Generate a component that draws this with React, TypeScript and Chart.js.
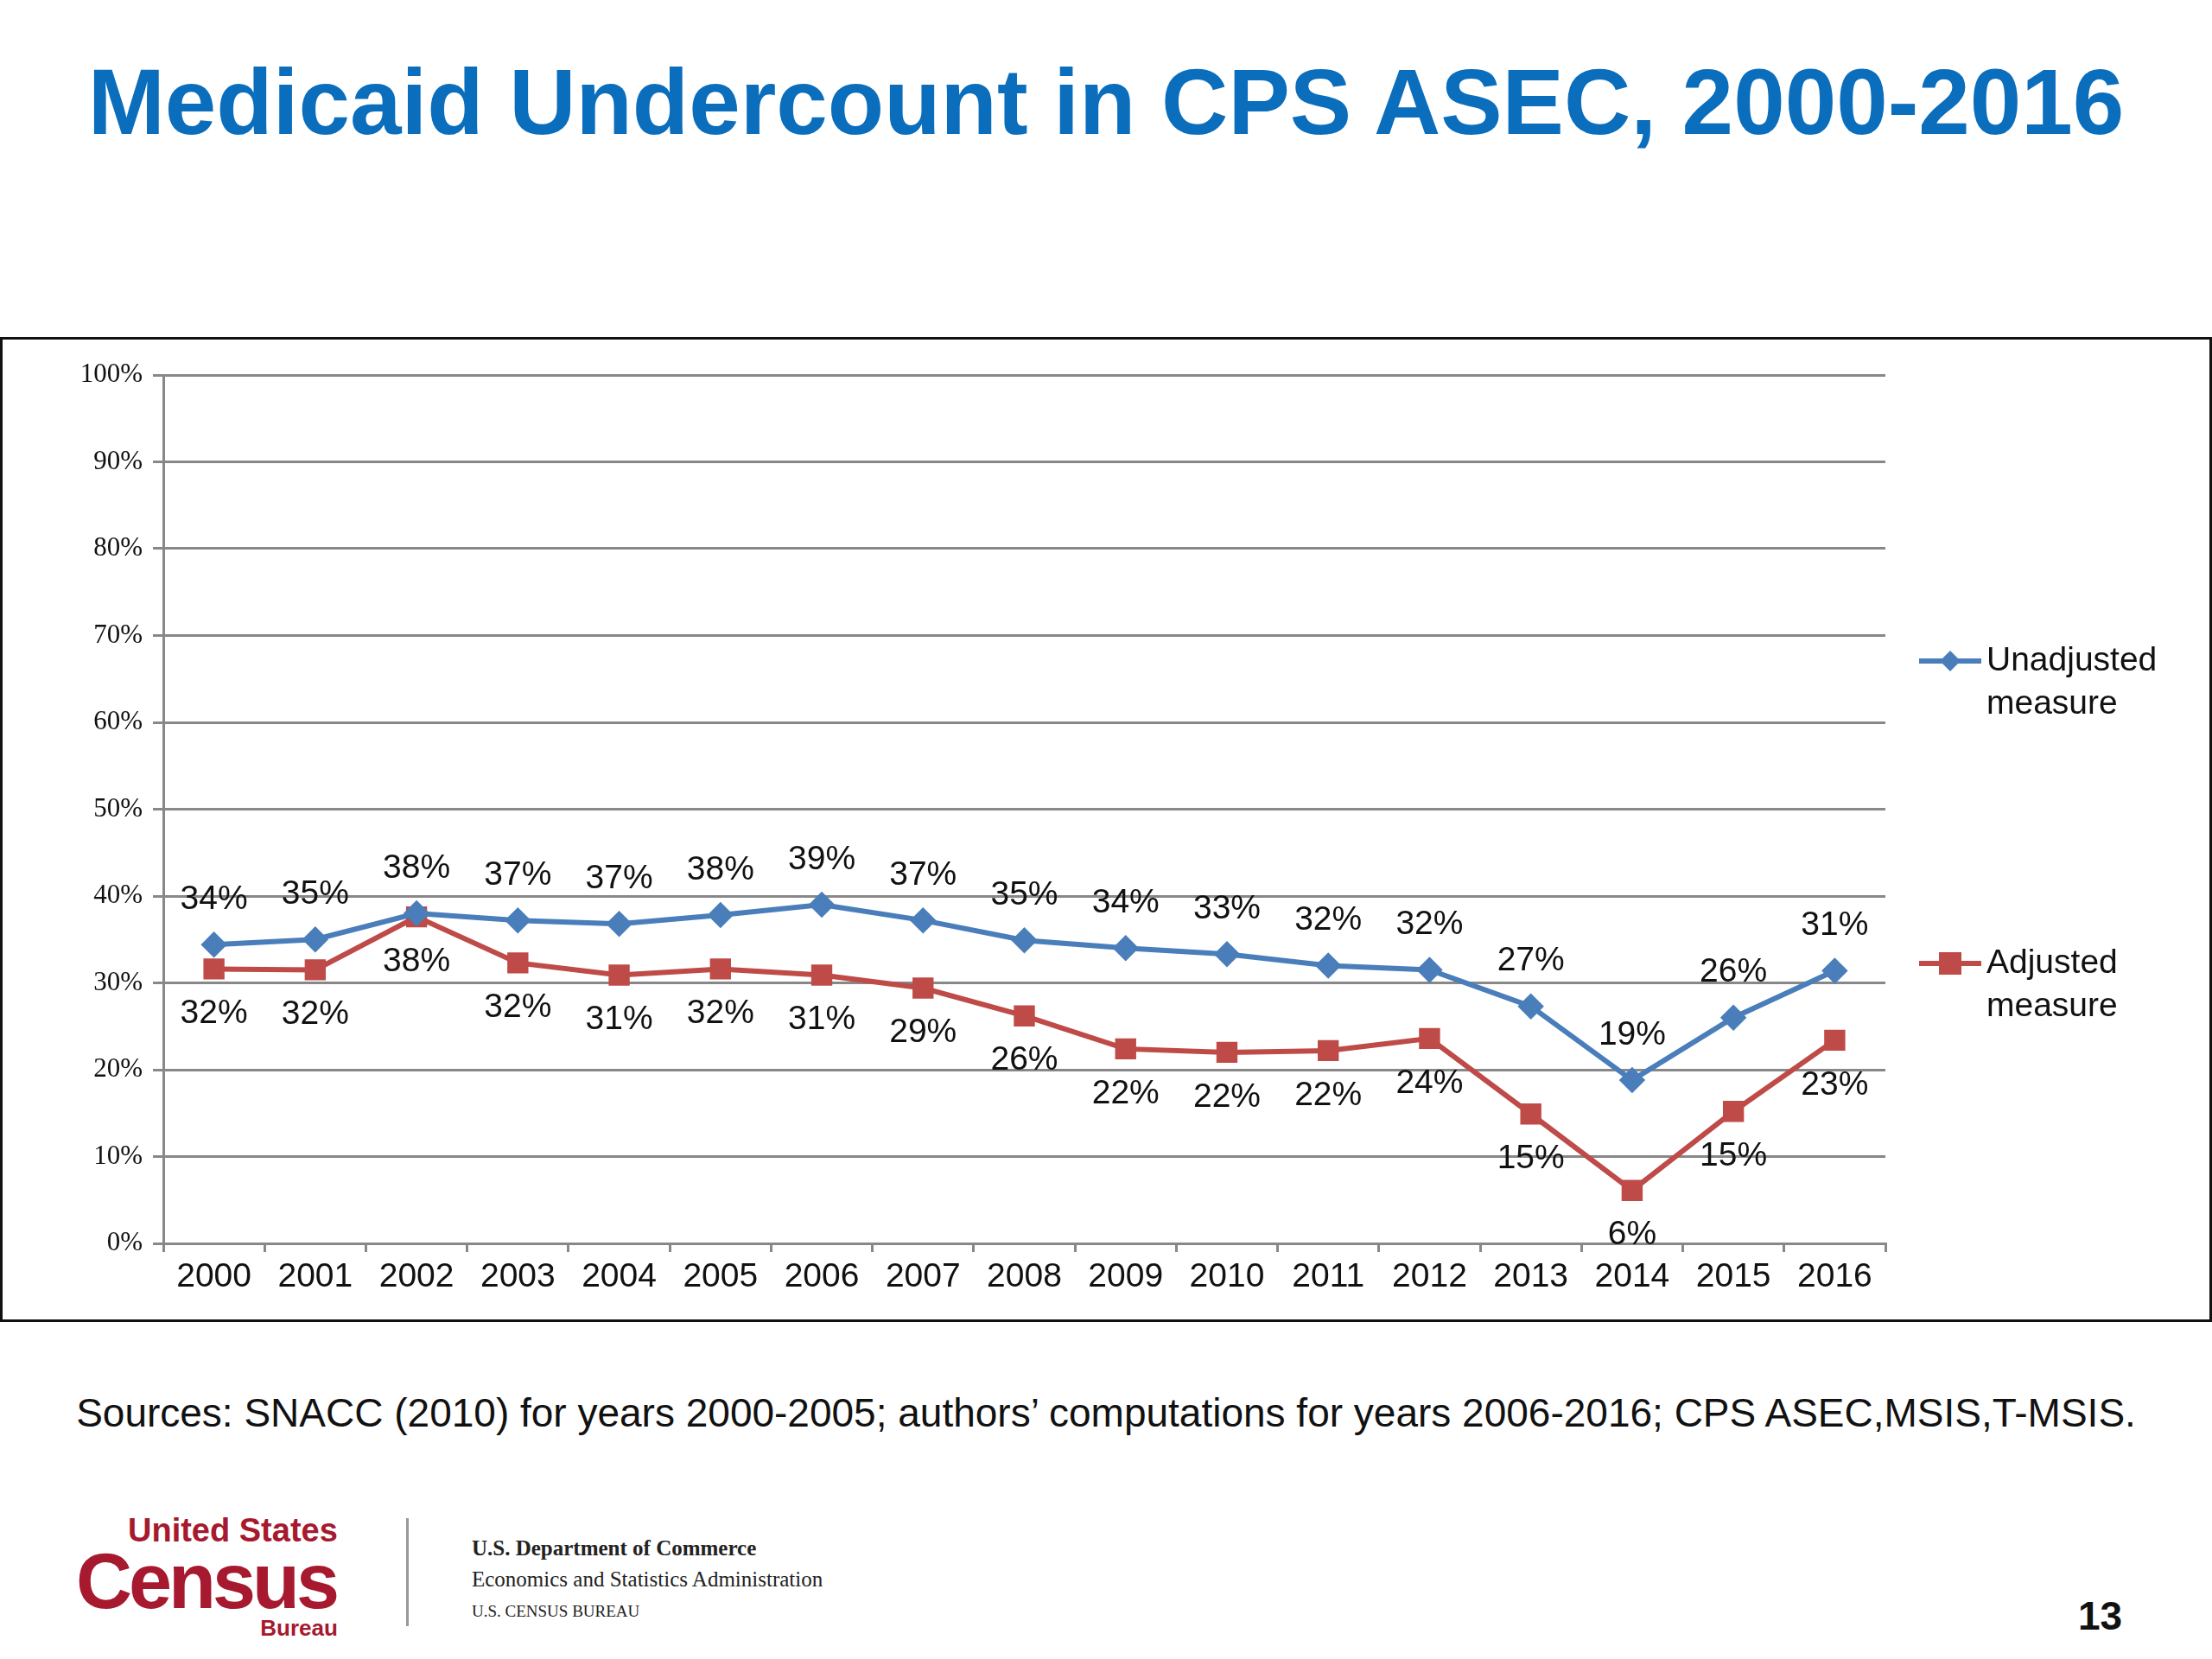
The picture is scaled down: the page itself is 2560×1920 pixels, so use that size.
import React, { useEffect, useRef } from "react";
import { Chart, registerables } from "chart.js";
Chart.register(...registerables);

const years = ["2000","2001","2002","2003","2004","2005","2006","2007","2008","2009","2010","2011","2012","2013","2014","2015","2016"];
const unadjusted = [34.4,35,38,37.2,36.8,37.8,39,37.2,34.9,34,33.3,32,31.5,27.3,18.8,26,31.4];
const unadjustedLabels = ["34%","35%","38%","37%","37%","38%","39%","37%","35%","34%","33%","32%","32%","27%","19%","26%","31%"];
const adjusted = [31.6,31.5,37.6,32.3,30.9,31.6,30.9,29.4,26.2,22.4,22,22.2,23.6,14.9,6.1,15.2,23.4];
const adjustedLabels = ["32%","32%","38%","32%","31%","32%","31%","29%","26%","22%","22%","22%","24%","15%","6%","15%","23%"];

const BLUE = "#4a7ebb";
const RED = "#be4b48";

export default function App() {
  const ref = useRef<HTMLCanvasElement>(null);
  useEffect(() => {
    document.body.style.margin = "0";
    const labelsPlugin = {
      id: "labels",
      afterDatasetsDraw(chart: any) {
        const ctx = chart.ctx;
        ctx.save();
        ctx.font = "39px Arial, 'Liberation Sans'";
        ctx.fillStyle = "#111";
        ctx.textAlign = "center";
        ctx.textBaseline = "middle";
        const sets = [unadjustedLabels, adjustedLabels];
        sets.forEach((labs, di) => {
          const meta = chart.getDatasetMeta(di);
          meta.data.forEach((p: any, i: number) => {
            ctx.fillText(labs[i], p.x, p.y + (di === 0 ? -52 : 52));
          });
        });
        const items = [
          { c: BLUE, s: "rectRot", y: 372, t: ["Unadjusted", "measure"] },
          { c: RED, s: "rect", y: 722, t: ["Adjusted", "measure"] },
        ];
        items.forEach((it) => {
          const y = it.y;
          ctx.strokeStyle = it.c;
          ctx.lineWidth = 6;
          ctx.beginPath();
          ctx.moveTo(2218, y);
          ctx.lineTo(2290, y);
          ctx.stroke();
          ctx.fillStyle = it.c;
          if (it.s === "rect") {
            ctx.fillRect(2241, y - 13, 26, 26);
          } else {
            ctx.beginPath();
            ctx.moveTo(2254, y - 12);
            ctx.lineTo(2266, y);
            ctx.lineTo(2254, y + 12);
            ctx.lineTo(2242, y);
            ctx.closePath();
            ctx.fill();
          }
          ctx.fillStyle = "#111";
          ctx.textAlign = "left";
          ctx.fillText(it.t[0], 2296, y);
          ctx.fillText(it.t[1], 2296, y + 50);
        });
        ctx.restore();
      },
    };
    const chart = new Chart(ref.current!, {
      type: "line",
      data: {
        labels: years,
        datasets: [
          { label: "Unadjusted measure", data: unadjusted, borderColor: BLUE, backgroundColor: BLUE, borderWidth: 6, pointStyle: "rectRot", pointRadius: 11, pointHoverRadius: 11 },
          { label: "Adjusted measure", data: adjusted, borderColor: RED, backgroundColor: RED, borderWidth: 6, pointStyle: "rect", pointRadius: 13, pointHoverRadius: 13 },
        ],
      },
      options: {
        animation: false,
        responsive: false,
        layout: { padding: { top: 41, right: 375, left: 0, bottom: 0 } },
        plugins: { legend: { display: false }, tooltip: { enabled: false } },
        scales: {
          x: {
            offset: true,
            afterFit: (s: any) => { s.height = 88; },
            grid: { drawOnChartArea: false, offset: true, tickLength: 10, color: "#888", lineWidth: 3 },
            border: { color: "#888", width: 3 },
            ticks: { color: "#111", font: { size: 39, family: "Arial, 'Liberation Sans'" }, padding: 6 },
          },
          y: {
            min: 0, max: 100,
            afterFit: (s: any) => { s.width = 186; },
            grid: { color: "#888", lineWidth: 3, tickLength: 12 },
            border: { color: "#888", width: 3 },
            ticks: { stepSize: 10, color: "#111", padding: 12, font: { size: 31, family: "'Liberation Serif', 'DejaVu Serif', serif" }, callback: (v: any) => v + "%" },
          },
        },
      },
      plugins: [labelsPlugin],
    });
    return () => chart.destroy();
  }, []);
  return (
    <div style={{ position: "relative", width: 2560, height: 1920, background: "#fff", fontFamily: "Arial, 'Liberation Sans', sans-serif" }}>
      <div style={{ position: "absolute", left: 0, top: 56, width: 2560, textAlign: "center", fontSize: 107, fontWeight: "bold", color: "#0a6ebd" }}>
        Medicaid Undercount in CPS ASEC, 2000-2016
      </div>
      <div style={{ position: "absolute", left: 0, top: 390, width: 2560, height: 1140, border: "3px solid #111", boxSizing: "border-box" }}>
        <canvas ref={ref} width={2554} height={1134} style={{ display: "block" }} />
      </div>
      <div style={{ position: "absolute", left: 0, top: 1608, width: 2560, textAlign: "center", fontSize: 46, color: "#111" }}>
        Sources: SNACC (2010) for years 2000-2005; authors’ computations for years 2006-2016; CPS ASEC,MSIS,T-MSIS.
      </div>
      <div style={{ position: "absolute", left: 88, top: 1752, color: "#a6192e", fontWeight: "bold" }}>
        <div style={{ fontSize: 38, marginLeft: 60, lineHeight: 1 }}>United States</div>
        <div style={{ fontSize: 90, lineHeight: 0.9, letterSpacing: -4 }}>Census</div>
        <div style={{ fontSize: 26, textAlign: "right", lineHeight: 1 }}>Bureau</div>
      </div>
      <div style={{ position: "absolute", left: 470, top: 1757, width: 3, height: 125, background: "#999" }} />
      <div style={{ position: "absolute", left: 546, top: 1778, fontFamily: "'Liberation Serif', serif", color: "#222" }}>
        <div style={{ fontSize: 25, fontWeight: "bold" }}>U.S. Department of Commerce</div>
        <div style={{ fontSize: 25, marginTop: 8 }}>Economics and Statistics Administration</div>
        <div style={{ fontSize: 19, marginTop: 12 }}>U.S. CENSUS BUREAU</div>
      </div>
      <div style={{ position: "absolute", left: 2405, top: 1843, fontSize: 46, fontWeight: "bold", color: "#111" }}>13</div>
    </div>
  );
}
